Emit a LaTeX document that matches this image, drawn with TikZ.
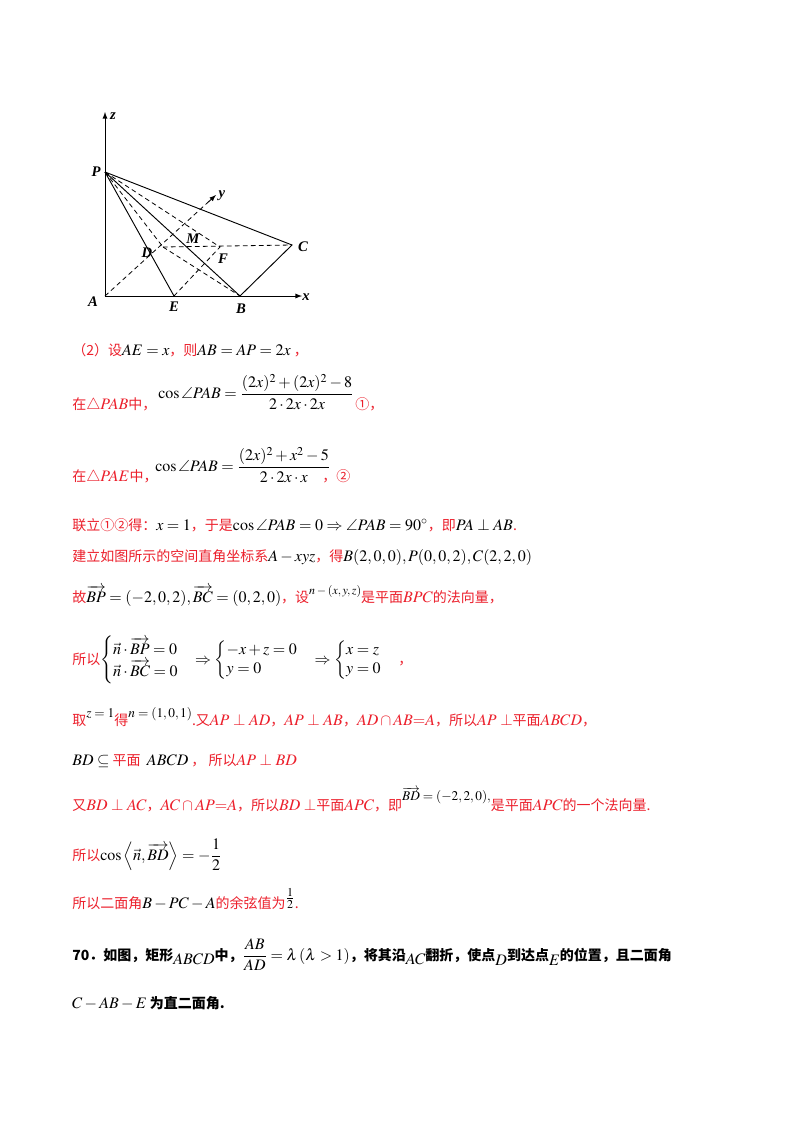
\documentclass[tikz,border=0pt]{standalone}
\usepackage{amsmath,amssymb}
\usepackage{mathptmx}
\usepackage{fontspec}
\usetikzlibrary{calc}
\setmainfont{Noto Sans CJK SC}
\newfontfamily\lblfont{Liberation Serif}
\definecolor{rd}{RGB}{236,32,44}
\newcommand{\bk}[1]{\textcolor{black}{\fontsize{12}{12}\selectfont$#1$}}
\newcommand{\mr}[1]{{\fontsize{12}{12}\selectfont$#1$}}
\begin{document}
\begin{tikzpicture}[x=0.75pt,y=-0.75pt,
  lbl/.style={font=\lblfont\bfseries\itshape\fontsize{11}{11}\selectfont},
  ln/.style={line width=0.7pt},
  dl/.style={line width=0.6pt,dash pattern=on 3.5pt off 2.5pt},
  tx/.style={anchor=base west,inner sep=0pt,text=rd,font=\fontsize{10.5}{12}\selectfont}]
\useasboundingbox (0,0) rectangle (800,1132);
\fill[white] (0,0) rectangle (800,1132);
% figure
\coordinate (A) at (105,296);
\coordinate (P) at (105,172);
\coordinate (B) at (240,296);
\coordinate (E) at (174,296);
\coordinate (C) at (292,245);
\coordinate (D) at (163,247);
\coordinate (F) at (220,247);
\coordinate (Z) at (105,112);
\coordinate (X) at (302,296);
\coordinate (Y) at (216,195);
\coordinate (Y0) at ($(A)!0.93!(Y)$);
\draw[ln,-latex] (A) -- (Z);
\draw[ln,-latex] (A) -- (X);
\draw[dl] (A) -- (Y0); \draw[ln,-latex] (Y0) -- (Y);
\draw[ln] (P) -- (C) -- (B);
\draw[ln] (P) -- (E);
\draw[ln] (P) -- (B);
\draw[dl] (P) -- (F);
\draw[dl] (P) -- (D);
\draw[dl] (D) -- (C);
\draw[dl] (D) -- (B);
\draw[dl] (E) -- (F);
\node[lbl] (lz) at (113,116) {z};
\node[lbl] (lP) at (96,172) {P};
\node[lbl] (ly) at (222,196) {y};
\node[lbl] (lM) at (193,239) {M};
\node[lbl] (lD) at (147,253) {D};
\node[lbl] (lF) at (223,259) {F};
\node[lbl] (lC) at (303,247) {C};
\node[lbl] (lA) at (93,302) {A};
\node[lbl] (lE) at (174,307) {E};
\node[lbl] (lB) at (241,309) {B};
\node[lbl] (lx) at (306,297) {x};
% text
\node[tx] (t1) at (72,355) {（2）设\bk{AE=x}，则\bk{AB=AP=2x} ，};
\node[tx] (t2) at (72,409) {在\mr{\triangle PAB}中，};
\node[tx,anchor=west] (f1) at (158,392) {\bk{\cos\angle PAB=\dfrac{(2x)^2+(2x)^2-8}{2\cdot2x\cdot2x}}};
\node[tx] (c1) at (355,409) {①，};
\node[tx] (t3) at (72,481) {在\mr{\triangle PAE}中，};
\node[tx,anchor=west] (f2) at (155,465) {\bk{\cos\angle PAB=\dfrac{(2x)^2+x^2-5}{2\cdot2x\cdot x}}};
\node[tx] (c2) at (322,481) {，②};
\node[tx] (t4) at (72,530) {联立①②得：\bk{x=1}，于是\bk{\cos\angle PAB=0\Rightarrow\angle PAB=90^\circ}，即\bk{PA\perp AB}.};
\node[tx] (t5) at (72,561) {建立如图所示的空间直角坐标系\bk{A-xyz}，得\bk{B(2,0,0),P(0,0,2),C(2,2,0)}};
\node[tx] (t6) at (72,602) {故\bk{\overrightarrow{BP}=(-2,0,2),\overrightarrow{BC}=(0,2,0)}，设\raisebox{6pt}{\textcolor{black}{\fontsize{9}{9}\selectfont$n-(x,y,z)$}}是平面\mr{BPC}的法向量，};
\node[tx] (t7) at (72,664) {所以\bk{\begin{cases}\vec n\cdot\overrightarrow{BP}=0\\ \vec n\cdot\overrightarrow{BC}=0\end{cases}\!\!\Rightarrow\begin{cases}-x+z=0\\ y=0\end{cases}\!\!\Rightarrow\begin{cases}x=z\\ y=0\end{cases}}，};
\node[tx] (t8) at (72,725) {取\raisebox{6pt}{\textcolor{black}{\fontsize{10}{10}\selectfont$z=1$}}得\raisebox{6pt}{\textcolor{black}{\fontsize{10}{10}\selectfont$n=(1,0,1)$}}.又\mr{AP\perp AD}，\mr{AP\perp AB}，\mr{AD\cap AB{=}A}，所以\mr{AP\perp}平面\mr{ABCD}，};
\node[tx] (t9) at (72,765) {\bk{BD\subseteq}\ 平面 \ \bk{ABCD}\ ，\ 所以\mr{AP\perp BD}};
\node[tx] (t10) at (72,810) {又\mr{BD\perp AC}，\mr{AC\cap AP{=}A}，所以\mr{BD\perp}平面\mr{APC}，即\raisebox{7pt}{\textcolor{black}{\fontsize{10}{10}\selectfont$\overrightarrow{BD}=(-2,2,0),$}}是平面\mr{APC}的一个法向量.};
\node[tx] (t11) at (72,860) {所以\bk{\cos\left\langle\vec n,\overrightarrow{BD}\right\rangle=-\dfrac12}};
\node[tx] (t12) at (72,908) {所以二面角\bk{B-PC-A}的余弦值为\raisebox{4pt}{\bk{\tfrac12}}.};
\node[tx,text=black,font=\bfseries\fontsize{10.5}{12}\selectfont] (t13) at (72,960) {70．如图，矩形\raisebox{-3pt}{\mr{ABCD}}中，\mr{\dfrac{AB}{AD}=\lambda\,(\lambda>1)}，将其沿\raisebox{-3pt}{\mr{AC}}翻折，使点\raisebox{-4pt}{\mr{D}}到达点\raisebox{-4pt}{\mr{E}}的位置，且二面角};
\node[tx,text=black,font=\bfseries\fontsize{10.5}{12}\selectfont] (t14) at (72,1008) {\mr{C-AB-E} 为直二面角.};
\end{tikzpicture}
\end{document}
